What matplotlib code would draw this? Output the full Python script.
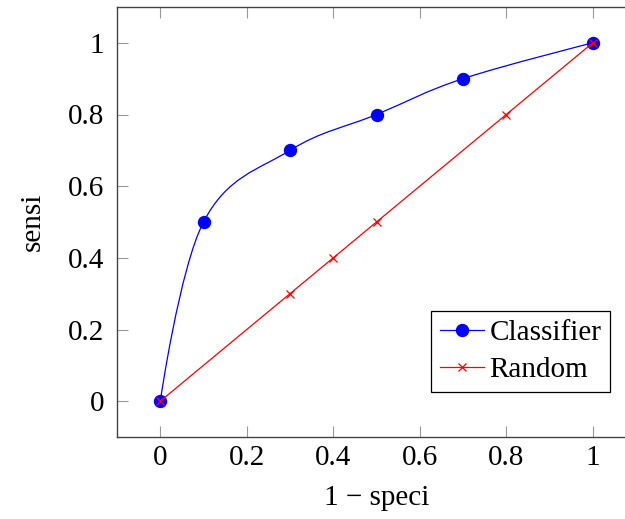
import numpy as np
import matplotlib.pyplot as plt
from matplotlib.path import Path
from matplotlib.patches import PathPatch
from matplotlib.lines import Line2D

plt.rcParams['font.family'] = ['Liberation Serif', 'DejaVu Serif']

# data
clf_x = [0.0, 0.1, 0.3, 0.5, 0.7, 1.0]
clf_y = [0.0, 0.5, 0.7, 0.8, 0.9, 1.0]
rnd_x = [0.0, 0.3, 0.4, 0.5, 0.8, 1.0]
rnd_y = [0.0, 0.3, 0.4, 0.5, 0.8, 1.0]
ticks = [0, 0.2, 0.4, 0.6, 0.8, 1]
tick_labels = ['0', '0.2', '0.4', '0.6', '0.8', '1']


def smooth_path(xs, ys, tension=0.55):
    # tikz-like "smooth" plot handler: cubic bezier through the points
    p = np.column_stack([xs, ys])
    f = tension / 3.0
    n = len(p)
    verts = [p[0]]
    codes = [Path.MOVETO]
    for i in range(n - 1):
        if i == 0:
            c1 = p[0]
        else:
            c1 = p[i] + f * (p[i + 1] - p[i - 1])
        if i + 1 == n - 1:
            c2 = p[n - 1]
        else:
            c2 = p[i + 1] - f * (p[i + 2] - p[i])
        verts += [c1, c2, p[i + 1]]
        codes += [Path.CURVE4] * 3
    return Path(verts, codes)


fs = 21
fig = plt.figure(figsize=(6.25, 5.19), dpi=100)
ax = fig.add_axes([117 / 625, 82 / 519, 519 / 625, 430 / 519])

ax.add_patch(PathPatch(smooth_path(clf_x, clf_y), facecolor='none',
                       edgecolor='blue', lw=0.9, zorder=2))
ax.plot(clf_x, clf_y, 'o', color='blue', ms=8.6, zorder=3)
ax.plot(rnd_x, rnd_y, '-x', color='red', lw=0.9, ms=6, mew=0.9, zorder=4)

ax.set_xlim(-0.1, 1.1)
ax.set_ylim(-0.1, 1.1)
ax.set_xticks(ticks)
ax.set_xticklabels(tick_labels)
ax.set_yticks(ticks)
ax.set_yticklabels(tick_labels)
ax.tick_params(direction='in', length=8, width=0.8, color='#999999',
               top=True, right=True, labelsize=fs)
ax.tick_params(axis='x', pad=6)
ax.tick_params(axis='y', pad=9)
for s in ax.spines.values():
    s.set_linewidth(1.0)
    s.set_color('#444444')

ax.set_xlabel('1 \u2212 speci', fontsize=fs, labelpad=10)
ax.set_ylabel('sensi', fontsize=fs, labelpad=16)

handles = [Line2D([], [], color='blue', lw=0.9, marker='o', ms=8.6),
           Line2D([], [], color='red', lw=0.9, marker='x', ms=6, mew=0.9)]
leg = ax.legend(handles, ['Classifier', 'Random'], loc='lower right',
                bbox_to_anchor=(0.95, 0.105), fontsize=fs, fancybox=False,
                framealpha=1, edgecolor='black', handlelength=1.5,
                handletextpad=0.2, borderpad=0.3, labelspacing=0.35,
                borderaxespad=0)
leg.get_frame().set_linewidth(0.9)

fig.savefig('out.png', dpi=100)
